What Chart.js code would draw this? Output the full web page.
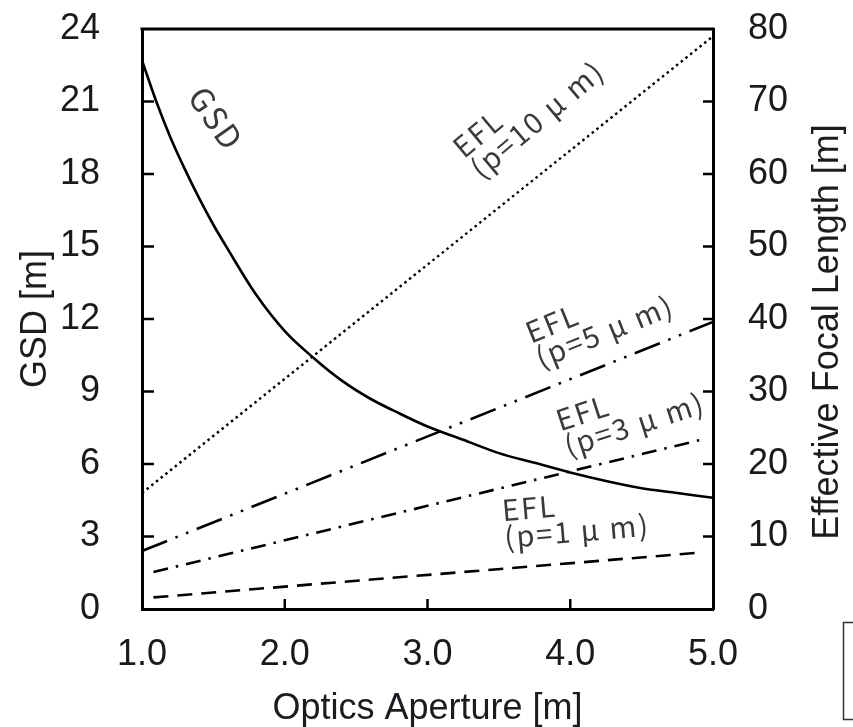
<!DOCTYPE html>
<html><head><meta charset="utf-8">
<script src="https://cdn.jsdelivr.net/npm/chart.js@4.4.1/dist/chart.umd.min.js"></script>
<style>html,body{margin:0;padding:0;background:#fff}#wrap{width:853px;height:727px}</style>
</head><body><div id="wrap"><canvas id="c" width="853" height="727"></canvas></div>
<script>
// ---- data ----
const gsdAperture = [1.0,1.1,1.2,1.3,1.4,1.5,1.6,1.8,2.0,2.2,2.4,2.6,2.8,3.0,3.25,3.5,3.75,4.0,4.25,4.5,4.75,5.0];
const gsdValues   = [22.7,21.0,19.5,18.2,17.0,15.9,14.9,13.0,11.5,10.4,9.45,8.7,8.1,7.55,7.0,6.45,6.05,5.65,5.3,5.0,4.8,4.6];
const efl10Aperture = [1.0, 5.0];  const efl10Values = [16.0, 79.0];
const efl5Aperture  = [1.0, 5.0];  const efl5Values  = [8.0, 39.6];
const efl3Aperture  = [1.08, 4.95]; const efl3Values = [5.1, 23.5];
const efl1Aperture  = [1.08, 4.92]; const efl1Values = [1.6, 7.8];
const xTicks = [1.0, 2.0, 3.0, 4.0, 5.0];
const gsdTicks = [0,3,6,9,12,15,18,21,24];
const eflTicks = [0,10,20,30,40,50,60,70,80];
const labelTexts = {
  gsd: ["GSD"],
  p10: ["EFL", "(p=10 \u03bc m)"],
  p5:  ["EFL", "(p=5 \u03bc m)"],
  p3:  ["EFL", "(p=3 \u03bc m)"],
  p1:  ["EFL", "(p=1 \u03bc m)"]
};
const titles = { x: "Optics Aperture [m]", y: "GSD [m]", y2: "Effective Focal Length [m]" };

const pts = (xs, ys) => xs.map((x, i) => ({x: x, y: ys[i]}));
const AX_FONT = {family: "'Liberation Sans', Arial, sans-serif", size: 36};

const decor = {
  id: 'decor',
  afterDatasetsDraw(chart) {
    const ctx = chart.ctx, a = chart.chartArea;
    const sx = chart.scales.x, sy = chart.scales.y, s2 = chart.scales.y2;
    ctx.save();
    ctx.strokeStyle = '#000';
    ctx.lineWidth = 3;
    ctx.beginPath(); ctx.moveTo(a.left - 1.5, a.top); ctx.lineTo(a.right + 1.5, a.top); ctx.stroke();
    ctx.lineWidth = 2.5;
    ctx.beginPath();
    gsdTicks.slice(1, -1).forEach(v => { const p = sy.getPixelForValue(v); ctx.moveTo(a.left, p); ctx.lineTo(a.left + 12, p); });
    eflTicks.slice(1, -1).forEach(v => { const p = s2.getPixelForValue(v); ctx.moveTo(a.right, p); ctx.lineTo(a.right - 10, p); });
    xTicks.slice(1, -1).forEach(v => { const p = sx.getPixelForValue(v); ctx.moveTo(p, a.bottom); ctx.lineTo(p, a.bottom - 10); });
    ctx.stroke();
    const lab = (lines, xv, yv, scale, deg, size, align) => {
      const px = sx.getPixelForValue(xv), py = scale.getPixelForValue(yv);
      ctx.save();
      ctx.translate(px, py); ctx.rotate(deg * Math.PI / 180);
      ctx.font = size + "px 'Noto Sans CJK JP', 'Noto Sans', sans-serif";
      ctx.fillStyle = '#3a3a3a';
      try { ctx.letterSpacing = '2px'; } catch (e) {}
      ctx.textAlign = align; ctx.textBaseline = 'alphabetic';
      lines.forEach((t, i) => ctx.fillText(t, 0, i * 27));
      ctx.restore();
    };
    lab(labelTexts.gsd, 1.45, 20.0, sy, 55, 32, 'center');
    lab(labelTexts.p10, 3.256, 62.0, s2, -40, 29, 'left');
    lab(labelTexts.p5, 3.725, 36.6, s2, -22, 29, 'left');
    lab(labelTexts.p3, 3.93, 24.5, s2, -18, 29, 'left');
    lab(labelTexts.p1, 3.529, 12.1, s2, -5, 29, 'left');
    ctx.save();
    ctx.translate(s2.right - 25, (s2.top + s2.bottom) / 2 + 13);
    ctx.rotate(-Math.PI / 2);
    ctx.font = "36px 'Liberation Sans', Arial, sans-serif";
    ctx.fillStyle = '#1e1a20';
    ctx.textAlign = 'center'; ctx.textBaseline = 'middle';
    ctx.fillText(titles.y2, 0, 0);
    ctx.restore();
    ctx.lineWidth = 1.5; ctx.strokeStyle = '#333';
    ctx.strokeRect(843.5, 622.5, 30, 97);
    ctx.restore();
  }
};

const lineDs = (label, data, axis, dash, width) => ({
  label, data, yAxisID: axis, borderColor: '#000', borderWidth: width,
  borderDash: dash, pointRadius: 0, fill: false, tension: 0, borderCapStyle: 'butt'
});
const noPad = s => { s.paddingTop = 0; s.paddingBottom = 0; s.paddingLeft = 0; s.paddingRight = 0; };

new Chart(document.getElementById('c'), {
  type: 'line',
  data: {
    datasets: [
      Object.assign(lineDs('GSD', pts(gsdAperture, gsdValues), 'y', [], 2.6), {cubicInterpolationMode: 'monotone'}),
      lineDs('EFL p=10', pts(efl10Aperture, efl10Values), 'y2', [2.5, 3.5], 2.4),
      lineDs('EFL p=5', pts(efl5Aperture, efl5Values), 'y2', [27, 9, 2.5, 9, 2.5, 9], 2.6),
      lineDs('EFL p=3', pts(efl3Aperture, efl3Values), 'y2', [15, 8, 2.5, 8], 2.6),
      lineDs('EFL p=1', pts(efl1Aperture, efl1Values), 'y2', [15, 9], 2.6)
    ]
  },
  options: {
    responsive: false, animation: false, devicePixelRatio: 1,
    layout: {padding: {top: 29, left: 0, right: 0, bottom: 0}},
    plugins: {legend: {display: false}, tooltip: {enabled: false}},
    scales: {
      x: {
        type: 'linear', position: 'bottom', min: 1, max: 5,
        afterBuildTicks: s => { s.ticks = xTicks.map(v => ({value: v})); },
        afterFit: s => { s.height = 118; noPad(s); },
        grid: {display: false, drawTicks: false},
        border: {display: true, width: 3, color: '#000'},
        ticks: {font: AX_FONT, color: '#1a1a1a', padding: 24, maxRotation: 0, autoSkip: false,
                callback: v => Number(v).toFixed(1)},
        title: {display: true, text: titles.x, font: Object.assign({}, AX_FONT, {lineHeight: 1}),
                color: '#1e1a20', padding: {top: 0, bottom: 0}}
      },
      y: {
        type: 'linear', position: 'left', min: 0, max: 24,
        afterBuildTicks: s => { s.ticks = gsdTicks.map(v => ({value: v})); },
        afterFit: s => { s.width = 142; noPad(s); },
        grid: {display: false, drawTicks: false},
        border: {display: true, width: 3, color: '#000'},
        ticks: {font: AX_FONT, color: '#1a1a1a', padding: 42, autoSkip: false},
        title: {display: true, text: titles.y, font: Object.assign({}, AX_FONT, {lineHeight: 1}),
                color: '#1e1a20', padding: {top: 18, bottom: 0}}
      },
      y2: {
        type: 'linear', position: 'right', min: 0, max: 80,
        afterBuildTicks: s => { s.ticks = eflTicks.map(v => ({value: v})); },
        afterFit: s => { s.width = 140; noPad(s); },
        grid: {display: false, drawTicks: false},
        border: {display: true, width: 3, color: '#000'},
        ticks: {font: AX_FONT, color: '#1a1a1a', padding: 35, autoSkip: false}
      }
    }
  },
  plugins: [decor]
});
</script>
</body></html>
